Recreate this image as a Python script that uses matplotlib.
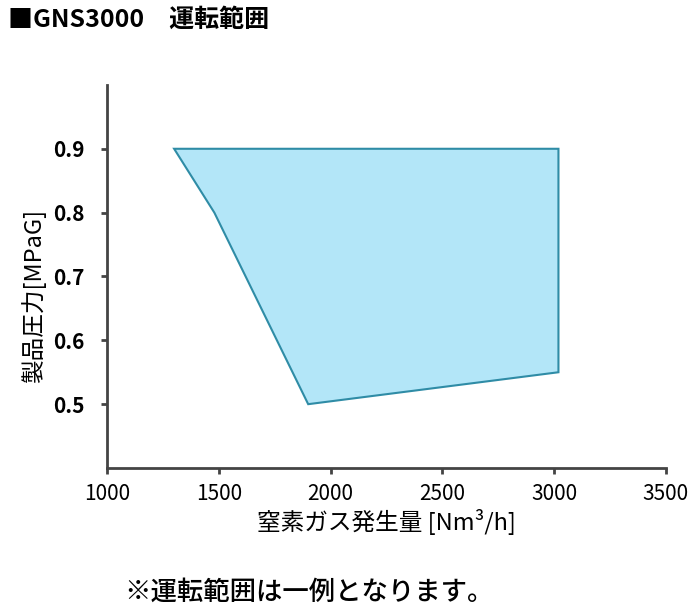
import matplotlib
matplotlib.use("Agg")
import matplotlib.pyplot as plt
from matplotlib.patches import Polygon

plt.rcParams['font.family'] = ['Noto Sans CJK JP', 'DejaVu Sans']

# operating range boundary (flow Nm3/h, pressure MPaG)
flow = [1300, 1480, 1900, 3020, 3020]
pressure = [0.9, 0.8, 0.5, 0.55, 0.9]

x_ticks = [1000, 1500, 2000, 2500, 3000, 3500]
y_ticks = [0.5, 0.6, 0.7, 0.8, 0.9]

fig = plt.figure(figsize=(7, 6.11), dpi=100)
ax = fig.add_axes([0.153, 0.234, 0.798, 0.627])

poly = Polygon(list(zip(flow, pressure)), closed=True,
               facecolor='#B3E6F8', edgecolor='#2F8CA6', linewidth=1.5)
ax.add_patch(poly)

ax.set_xlim(1000, 3500)
ax.set_ylim(0.4, 1.0)
ax.set_xticks(x_ticks)
ax.set_xticklabels([str(v) for v in x_ticks], fontsize=15)
ax.set_yticks(y_ticks)
ax.set_yticklabels([f"{v:.1f}" for v in y_ticks], fontsize=15, fontweight='bold')

for s in ['top', 'right']:
    ax.spines[s].set_visible(False)
for s in ['left', 'bottom']:
    ax.spines[s].set_color('#444444')
    ax.spines[s].set_linewidth(2)
ax.tick_params(axis='both', colors='#444444', length=4, width=2, labelcolor='black')
ax.tick_params(axis='x', pad=7)
ax.tick_params(axis='y', pad=12)

ax.set_xlabel('窒素ガス発生量 [Nm³/h]', fontsize=17, labelpad=3)
ax.set_ylabel('製品圧力[MPaG]', fontsize=17)
ax.yaxis.set_label_coords(-0.11, 0.45)

fig.text(0.011, 0.967, '■GNS3000　運転範囲', fontsize=18, fontweight='bold', va='center')
fig.text(0.178, 0.03, '※運転範囲は一例となります。', fontsize=19, fontweight='medium', va='center')

fig.savefig('out.png', dpi=100)
